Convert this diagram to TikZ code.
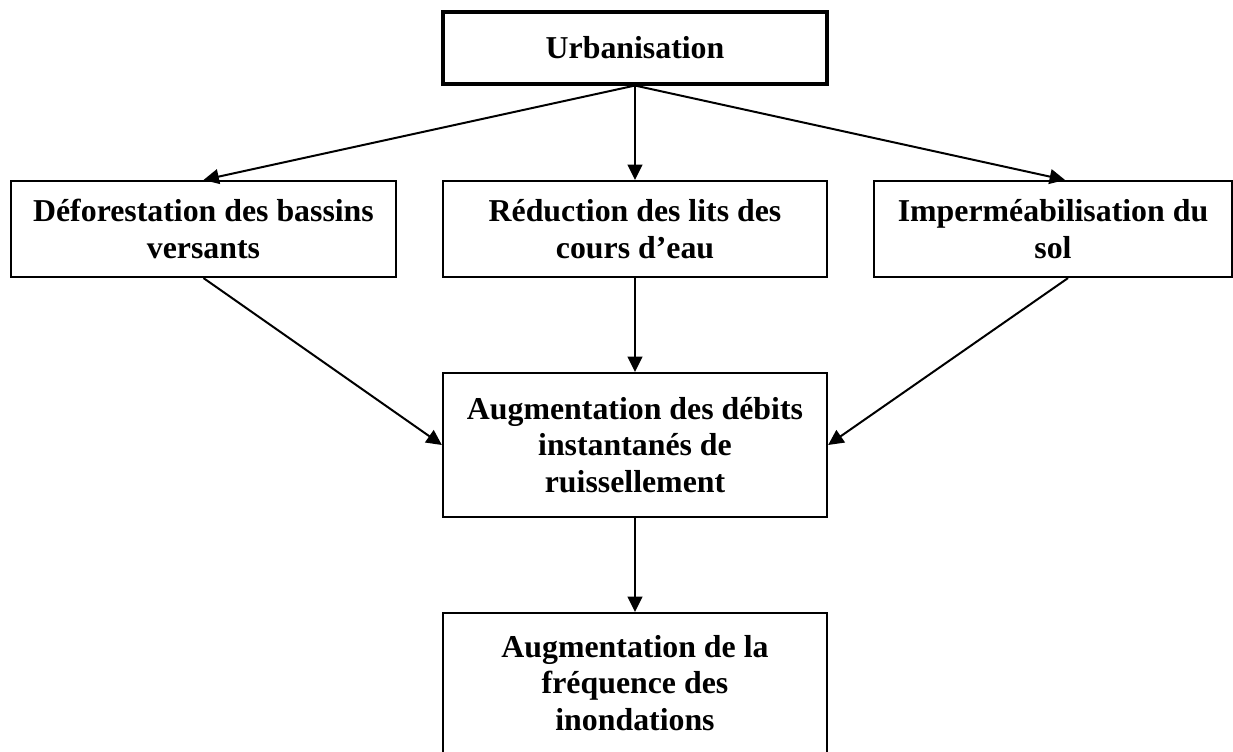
\documentclass[tikz,border=0pt]{standalone}
\usepackage{fontspec}
\setmainfont{Liberation Serif}
\usetikzlibrary{arrows, arrows.meta}
\usetikzlibrary{calc}

\begin{document}
\begin{tikzpicture}[x=0.377pt, y=-0.377pt,
    box/.style={draw, line width=0.8pt, align=center, inner sep=0pt,
      font=\fontsize{12}{13.8}\selectfont\bfseries},
    flow/.style={-{Triangle[length=5.8pt, width=5.6pt]}, line width=0.75pt}]
    \useasboundingbox (0, 0) rectangle (1233, 751);

    \node[box, line width=1.2pt, minimum width=144.8pt, minimum height=27.1pt] (urb) at (635, 48) {Urbanisation};

    \node[box, minimum width=145.1pt, minimum height=36.2pt] (defo) at (203.5, 229) {D\'eforestation des bassins\\versants};
    \node[box, minimum width=144.8pt, minimum height=36.2pt] (reduc) at (635, 229) {R\'eduction des lits des\\cours d'eau};
    \node[box, minimum width=135pt, minimum height=36.2pt] (imper) at (1053, 229) {Imperm\'eabilisation du\\sol};

    \node[box, minimum width=144.8pt, minimum height=54.3pt] (debit) at (635, 445) {Augmentation des d\'ebits\\instantan\'es de\\ruissellement};
    \node[box, minimum width=144.8pt, minimum height=52.8pt] (freq) at (635, 683) {Augmentation de la\\fr\'equence des\\inondations};

    \draw[flow] (urb.south) -- (defo.north);
    \draw[flow] (urb.south) -- (reduc.north);
    \draw[flow] (urb.south) -- ($(imper.north)+(12, 0)$);

    \draw[flow] (defo.south) -- (debit.west);
    \draw[flow] (reduc.south) -- (debit.north);
    \draw[flow] ($(imper.south)+(15, 0)$) -- (debit.east);

    \draw[flow] (debit.south) -- (freq.north);
  \end{tikzpicture}
\end{document}
